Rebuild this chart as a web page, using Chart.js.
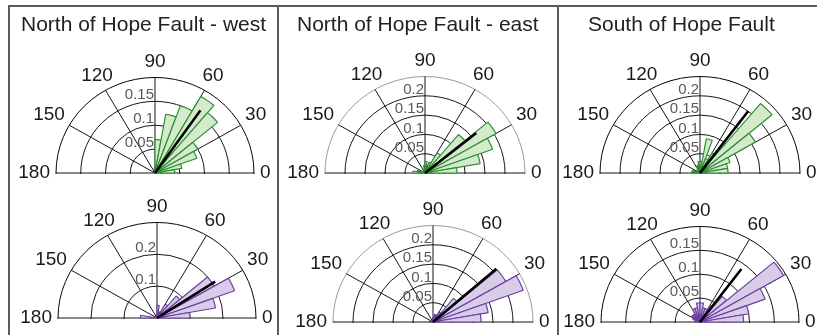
<!DOCTYPE html>
<html>
<head>
<meta charset="utf-8">
<script src="https://cdn.jsdelivr.net/npm/chart.js@4.4.1/dist/chart.umd.min.js"></script>
<style>
  body { margin: 0; width: 817px; height: 335px; background: #fff; position: relative; overflow: hidden;
         font-family: "Liberation Sans", Arial, sans-serif; }
  .rule { position: absolute; background: #5c5c5c; }
  .title { position: absolute; top: 12px; font-size: 21px; line-height: 24px; color: #222; white-space: nowrap; }
  .clip { position: absolute; overflow: hidden; }
  .clip canvas { position: absolute; left: 0; top: 0; }
</style>
</head>
<body>
<div id="charts"></div>
<div class="title" style="left:21px">North of Hope Fault - west</div>
<div class="title" style="left:297px">North of Hope Fault - east</div>
<div class="title" style="left:588px">South of Hope Fault</div>
<div class="rule" style="left:8px;top:5px;width:809px;height:2px"></div>
<div class="rule" style="left:8px;top:5px;width:2px;height:330px"></div>
<div class="rule" style="left:277px;top:5px;width:2px;height:330px"></div>
<div class="rule" style="left:557px;top:5px;width:2px;height:330px"></div>
<script>
// rose bins, 10 degrees each, from 0-10 up to 170-180
const binWidth = 10;
const angleTicks = [0, 30, 60, 90, 120, 150, 180];

const westGreen   = [0.04, 0.055, 0.09, 0.1, 0.165, 0.185, 0.15, 0.125, 0.07, 0.01, 0, 0, 0, 0, 0, 0, 0, 0];
const eastGreen   = [0.08, 0.14, 0.18, 0.205, 0.13, 0.06, 0.03, 0.02, 0.03, 0.02, 0.01, 0.01, 0.005, 0, 0, 0.01, 0.02, 0.03];
const southGreen  = [0.07, 0.07, 0.08, 0.16, 0.235, 0.06, 0.04, 0.09, 0.03, 0.03, 0.02, 0.02, 0.01, 0.01, 0.005, 0.01, 0.02, 0.02];
const westPurple  = [0.1, 0.18, 0.25, 0.2, 0.09, 0.05, 0.02, 0.02, 0.04, 0.01, 0, 0, 0, 0, 0, 0, 0, 0.05];
const eastPurple  = [0.12, 0.14, 0.24, 0.21, 0.08, 0.03, 0.02, 0.02, 0.01, 0.01, 0, 0, 0, 0, 0, 0, 0, 0.01];
const southPurple = [0.088, 0.1, 0.14, 0.195, 0.07, 0.04, 0.03, 0.03, 0.04, 0.04, 0.03, 0.03, 0.02, 0.02, 0.02, 0.015, 0.01, 0.01];

// radial axis of each rose and the mean direction line
const radialMax  = [0.2, 0.25, 0.25, 0.3, 0.25, 0.2];
const radialStep = [0.05, 0.05, 0.05, 0.1, 0.05, 0.05];
const meanAngle  = [55, 39, 53, 33, 41, 53];
const meanLength = [0.16, 0.165, 0.2, 0.21, 0.21, 0.139];

const GREEN = { fill: '#d3eacb', edge: '#2f8c36' };
const PURPLE = { fill: '#d9cce8', edge: '#6a3fa3' };

// where each rose sits on the page: centre x, centre y, radius
const panels = [
  { bins: westGreen,   cx: 155, cy: 173, r: 99,  col: GREEN,  outer: '#000' },
  { bins: eastGreen,   cx: 425, cy: 173, r: 100, col: GREEN,  outer: '#9a9a9a' },
  { bins: southGreen,  cx: 700, cy: 173, r: 100, col: GREEN,  outer: '#000' },
  { bins: westPurple,  cx: 157, cy: 318, r: 99,  col: PURPLE, outer: '#000' },
  { bins: eastPurple,  cx: 433, cy: 322, r: 100, col: PURPLE, outer: '#9a9a9a' },
  { bins: southPurple, cx: 700, cy: 322, r: 99,  col: PURPLE, outer: '#000' }
];

const CW = 300, CX = 150, CY = 140;
const SQ = 0.965; // the source figure is slightly squashed vertically

// half-disc clip + squash, then labels, ring values and mean line off the radial scale
const roseDecor = {
  id: 'roseDecor',
  beforeDraw(chart) {
    const s = chart.scales.r;
    const ctx = chart.ctx;
    ctx.save();
    ctx.beginPath();
    ctx.rect(0, 0, chart.width, s.yCenter + 1);
    ctx.clip();
    ctx.translate(0, s.yCenter);
    ctx.scale(1, SQ);
    ctx.translate(0, -s.yCenter);
  },
  afterDatasetsDraw(chart, args, opts) {
    const scale = chart.scales.r;
    const ctx = chart.ctx;
    const d = scale.getDistanceFromCenterForValue(opts.meanLength);
    const p = scale.getPointPosition((180 - opts.meanAngle) / binWidth, d);
    ctx.save();
    ctx.strokeStyle = '#000';
    ctx.lineWidth = 2.6;
    ctx.beginPath();
    ctx.moveTo(scale.xCenter, scale.yCenter);
    ctx.lineTo(p.x, p.y);
    ctx.stroke();
    ctx.restore();
  },
  afterDraw(chart) {
    const scale = chart.scales.r;
    const ctx = chart.ctx;
    ctx.restore();
    const cx = scale.xCenter, cy = scale.yCenter, R = scale.drawingArea;
    ctx.save();
    ctx.font = '19px "Liberation Sans", Arial, sans-serif';
    ctx.fillStyle = '#1a1a1a';
    ctx.textBaseline = 'middle';
    angleTicks.forEach(a => {
      const i = (180 - a) / binWidth;
      let pos, x, y, align;
      if (a === 0 || a === 180) {
        pos = scale.getPointPosition(i, R + 6);
        x = pos.x; y = cy; align = a === 0 ? 'left' : 'right';
      } else if (a === 90) {
        pos = scale.getPointPosition(i, R + 5);
        x = pos.x; y = cy + (pos.y - cy) * SQ - 11; align = 'center';
      } else if (a === 60 || a === 120) {
        pos = scale.getPointPosition(i, R + 17);
        x = pos.x; y = cy + (pos.y - cy) * SQ; align = 'center';
      } else {
        pos = scale.getPointPosition(i, R + 5);
        x = pos.x; y = cy + (pos.y - cy) * SQ - 8; align = a < 90 ? 'left' : 'right';
      }
      ctx.textAlign = align;
      ctx.fillText(String(a), x, y);
    });

    ctx.font = '15px "Liberation Sans", Arial, sans-serif';
    ctx.fillStyle = '#5a5a5a';
    ctx.textAlign = 'right';
    scale.ticks.forEach(t => {
      if (t.value <= 0 || t.value >= scale.max - 1e-9) return;
      const r = scale.getDistanceFromCenterForValue(t.value);
      ctx.fillText(String(Math.round(t.value * 100) / 100), cx - 1, cy - r * SQ - 6);
    });
    ctx.restore();
  }
};

const holder = document.getElementById('charts');
panels.forEach((pn, k) => {
  const n = pn.bins.length;
  const clip = document.createElement('div');
  clip.className = 'clip';
  clip.style.left = (pn.cx - CX) + 'px';
  clip.style.top = (pn.cy - CY) + 'px';
  clip.style.width = CW + 'px';
  clip.style.height = (CY + 14) + 'px';
  const cv = document.createElement('canvas');
  cv.width = CW;
  cv.height = CY * 2;
  clip.appendChild(cv);
  holder.appendChild(clip);

  // slices run clockwise from 180 deg, lower half left empty
  const labels = [];
  const values = [];
  for (let i = 0; i < 2 * n; i++) {
    labels.push(i <= n ? 180 - i * binWidth : '');
    values.push(i < n ? pn.bins[n - 1 - i] : 0);
  }

  new Chart(cv, {
    type: 'polarArea',
    data: {
      labels: labels,
      datasets: [{
        data: values,
        backgroundColor: pn.col.fill,
        borderColor: pn.col.edge,
        borderWidth: 1.2
      }]
    },
    options: {
      responsive: false,
      animation: false,
      devicePixelRatio: 1,
      layout: { padding: { left: CX - pn.r, right: CW - CX - pn.r, top: CY - pn.r, bottom: CY - pn.r } },
      plugins: {
        legend: { display: false },
        tooltip: { enabled: false },
        roseDecor: { meanAngle: meanAngle[k], meanLength: meanLength[k] }
      },
      scales: {
        r: {
          min: 0,
          max: radialMax[k],
          startAngle: -90,
          ticks: { display: false, stepSize: radialStep[k] },
          grid: {
            circular: true,
            lineWidth: 1,
            color: c => (Math.abs(c.tick.value - radialMax[k]) < 1e-9 ? pn.outer : '#111')
          },
          angleLines: {
            display: true,
            color: '#111',
            lineWidth: c => (c.index <= n && (c.index * binWidth) % 30 === 0 ? 1 : 0)
          },
          pointLabels: { display: false }
        }
      }
    },
    plugins: [roseDecor]
  });
});
</script>
</body>
</html>
